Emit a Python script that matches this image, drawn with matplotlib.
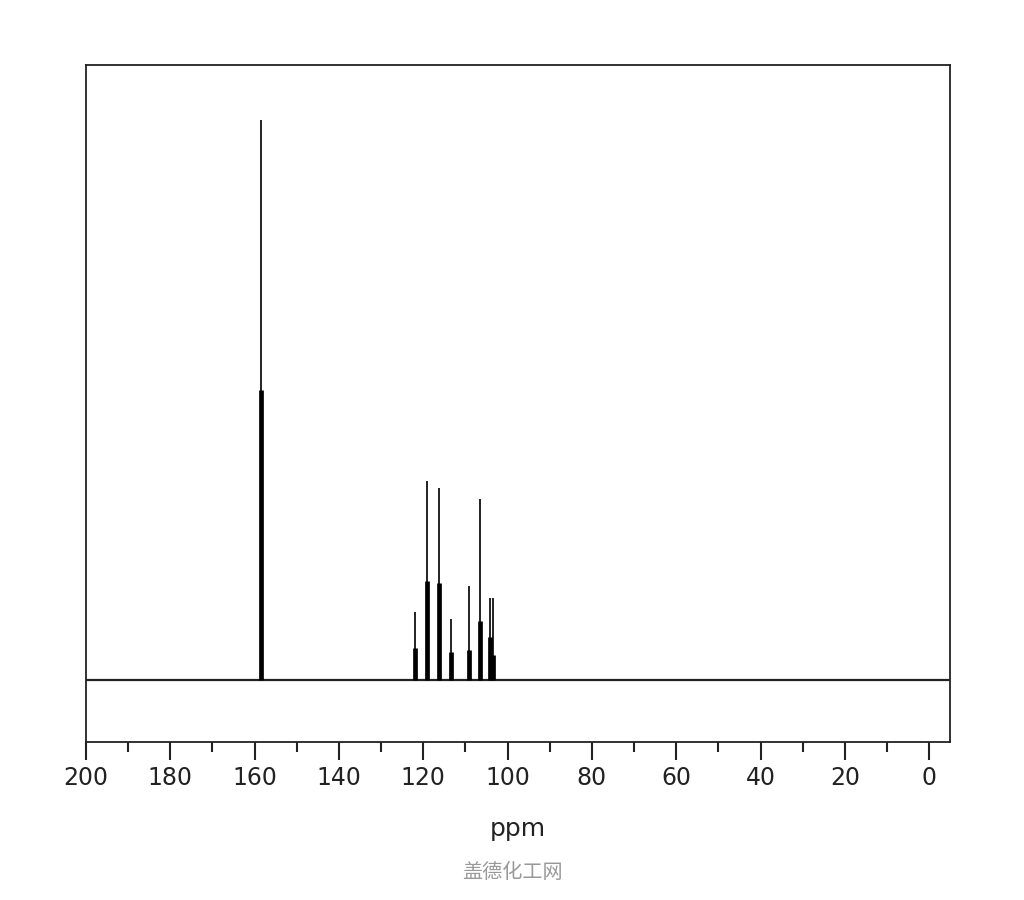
import numpy as np
import matplotlib.pyplot as plt

# 13C NMR peaks: shift (ppm), full height, height of the thick (inner) line
shift = [158.5, 122.0, 119.2, 116.3, 113.5, 109.1, 106.5, 104.1, 103.5]
height = [100.0, 12.1, 35.5, 34.3, 10.9, 16.8, 32.3, 14.6, 14.6]
inner = [51.8, 5.7, 17.7, 17.3, 5.0, 5.4, 10.5, 7.7, 4.5]

xticks = [200, 180, 160, 140, 120, 100, 80, 60, 40, 20, 0]

fig = plt.figure(figsize=(10.24, 9), dpi=100)
ax = fig.add_axes([0.084, 0.1756, 0.844, 0.7522])

ax.axhline(0, color='#222222', lw=1.6, zorder=1)
ax.vlines(shift, 0, height, color='#222222', lw=1.4, zorder=2)
ax.vlines(shift, 0, inner, color='black', lw=3.4, zorder=3)

ax.set_xlim(200, -5)
ax.set_ylim(-11.1, 109.8)

ax.set_xticks(xticks)
ax.set_xticks(np.arange(190, 0, -20), minor=True)
ax.set_yticks([])
ax.tick_params(axis='x', which='major', direction='out', length=13, width=1.5,
               labelsize=17, pad=4, colors='#222222')
ax.tick_params(axis='x', which='minor', direction='out', length=7, width=1.5,
               colors='#222222')
for s in ax.spines.values():
    s.set_color('#222222')
    s.set_linewidth(1.3)

ax.set_xlabel('ppm', fontsize=18, labelpad=20, color='#222222')

fig.text(0.5, 0.03, '盖德化工网', ha='center', va='center', fontsize=14.5,
         color='#999999', family=['Noto Sans CJK SC', 'DejaVu Sans'])

fig.savefig('out.png', dpi=100)
